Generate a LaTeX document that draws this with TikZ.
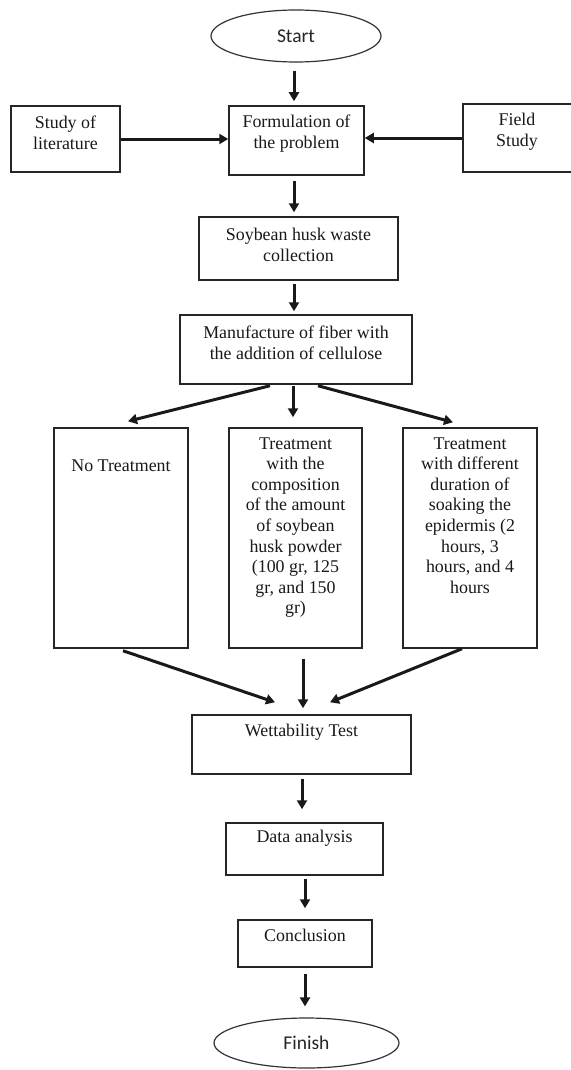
\documentclass[tikz,border=0pt]{standalone}
\usepackage{fontspec}
\setmainfont{Liberation Serif}
\newfontfamily\termfont{Carlito}
\usetikzlibrary{shapes.geometric,arrows.meta}
\tikzset{
  box/.style={draw=black!85, line width=1.5pt, inner sep=0pt, rectangle},
  txt/.style={align=center, inner sep=0pt, text=black!90, font=\fontsize{17.9}{21}\selectfont},
  term/.style={ellipse, draw=black!80, line width=1.2pt, inner sep=0pt, font=\termfont\fontsize{19.5}{22}\selectfont, text=black!85},
  arr/.style={line width=3pt, black!90, -{Triangle[length=9pt,width=10pt]}}
}
\begin{document}
\begin{tikzpicture}[x=1pt,y=-1pt]
\useasboundingbox (0,0) rectangle (570,1070);
\fill[white] (0,0) rectangle (570,1070);
% terminals
\node[term, minimum width=170pt, minimum height=52pt] (start) at (296,36) {Start};
\node[term, minimum width=185pt, minimum height=50pt] (finish) at (306.5,1043) {Finish};
% top row
\node[box, minimum width=109pt, minimum height=66pt] (lit) at (65.5,139) {};
\node[txt] (lit-t) at (65.5,132.5) {Study of\\literature};
\node[box, minimum width=135pt, minimum height=69pt] (form) at (296.5,140.5) {};
\node[txt] (form-t) at (296.5,134) {Formulation of\\the problem};
\node[box, minimum width=109pt, minimum height=68pt] (field) at (517.5,138) {};
\node[txt] (field-t) at (517,132) {Field\\Study};
% chain
\node[box, minimum width=199pt, minimum height=63pt] (soy) at (298.5,248.5) {};
\node[txt] (soy-t) at (298.5,244.5) {Soybean husk waste\\collection};
\node[box, minimum width=232pt, minimum height=69pt] (manu) at (296,349.5) {};
\node[txt] (manu-t) at (296,342.5) {Manufacture of fiber with\\the addition of cellulose};
% treatments
\node[box, minimum width=134pt, minimum height=220pt] (left) at (121,538) {};
\node[txt] (left-t) at (121,466) {No Treatment};
\node[box, minimum width=133pt, minimum height=220pt] (mid) at (295.5,538) {};
\node[txt, font=\fontsize{17.9}{20.6}\selectfont] (mid-t) at (295.5,527.5) {Treatment\\with the\\composition\\of the amount\\of soybean\\husk powder\\(100 gr, 125\\gr, and 150\\gr)};
\node[box, minimum width=134pt, minimum height=220pt] (right) at (470,538) {};
\node[txt, font=\fontsize{17.9}{20.6}\selectfont] (right-t) at (470,515.5) {Treatment\\with different\\duration of\\soaking the\\epidermis (2\\hours, 3\\hours, and 4\\hours};
% lower chain
\node[box, minimum width=219pt, minimum height=59pt] (wet) at (301.5,744.5) {};
\node[txt] (wet-t) at (301.5,732) {Wettability Test};
\node[box, minimum width=157pt, minimum height=52pt] (data) at (304.5,849) {};
\node[txt] (data-t) at (304.5,838) {Data analysis};
\node[box, minimum width=134pt, minimum height=47pt] (conc) at (305,943.5) {};
\node[txt] (conc-t) at (305,935) {Conclusion};
% connectors
\draw[arr] ([xshift=-2pt,yshift=-8pt]start.south) -- ([xshift=-2.5pt,yshift=4pt]form.north);
\draw[arr] (lit.east) -- (lit.east -| form.west);
\draw[arr] (field.west) -- (field.west -| form.east);
\draw[arr] ([xshift=-2.5pt,yshift=-5pt]form.south) -- ([xshift=-4.5pt,yshift=4pt]soy.north);
\draw[arr] ([xshift=-4.5pt,yshift=-3pt]soy.south) -- ([xshift=-2pt,yshift=3pt]manu.north);
\draw[arr] ([xshift=-26pt,yshift=-1pt]manu.south) -- ([xshift=7pt,yshift=6pt]left.north);
\draw[arr] ([xshift=-3pt,yshift=-1pt]manu.south) -- ([xshift=-2.5pt,yshift=10pt]mid.north);
\draw[arr] ([xshift=22pt,yshift=-1pt]manu.south) -- ([xshift=-17pt,yshift=5pt]right.north);
\draw[arr] ([xshift=2pt,yshift=-2pt]left.south) -- ([xshift=-26.5pt,yshift=12pt]wet.north);
\draw[arr] ([xshift=7.5pt,yshift=-10pt]mid.south) -- ([xshift=1.5pt,yshift=6pt]wet.north);
\draw[arr] ([xshift=-8pt,yshift=0pt]right.south) -- ([xshift=28.5pt,yshift=12pt]wet.north);
\draw[arr] ([xshift=0.5pt,yshift=-4pt]wet.south) -- ([xshift=-2.5pt,yshift=13pt]data.north);
\draw[arr] ([xshift=0.5pt,yshift=-3pt]data.south) -- ([yshift=11pt]conc.north);
\draw[arr] ([yshift=-6pt]conc.south) -- ([xshift=-1.5pt,yshift=11pt]finish.north);
\end{tikzpicture}
\end{document}
